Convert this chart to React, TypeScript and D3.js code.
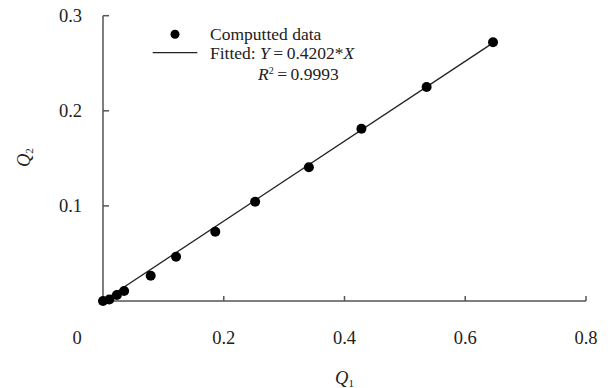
import React from "react";
import * as d3 from "d3";

const q1Values = [0.0, 0.0105, 0.023, 0.035, 0.079, 0.121, 0.186, 0.252, 0.341, 0.428, 0.536, 0.646];
const q2Values = [0.0, 0.0016, 0.0063, 0.0105, 0.0266, 0.0466, 0.0729, 0.1044, 0.1406, 0.1812, 0.225, 0.272];
const xTicks = [0.2, 0.4, 0.6, 0.8];
const yTicks = [0.1, 0.2, 0.3];
const slope = 0.4202;
const r2 = "0.9993";
const fitRange = [0, 0.646];

const W = 608;
const H = 388;
const FONT = "'Liberation Serif', 'Times New Roman', serif";
const FS = 18.5;
const LFS = 17.5;

export default function App() {
  const x = d3.scaleLinear().domain([0, 0.8]).range([103, 586]);
  const y = d3.scaleLinear().domain([0, 0.3]).range([301, 15.7]);
  const axisColor = "#555";
  const fitLine = d3.line<number>().x((d) => x(d)).y((d) => y(d * slope))(fitRange) || "";
  const points = q1Values.map((v, i) => [v, q2Values[i]]);
  return (
    <svg width={W} height={H} style={{ position: "absolute", left: 0, top: 0, background: "#fff" }} fontFamily={FONT}>
      {/* axes */}
      <line x1={x(0)} x2={x(0.8)} y1={y(0)} y2={y(0)} stroke={axisColor} strokeWidth={1.5} />
      <line x1={x(0)} x2={x(0)} y1={y(0)} y2={y(0.3)} stroke={axisColor} strokeWidth={1.5} />
      {xTicks.map((t) => (
        <g key={"x" + t}>
          <line x1={x(t)} x2={x(t)} y1={y(0)} y2={y(0) - 5} stroke={axisColor} strokeWidth={1.5} />
          <text x={x(t)} y={344} textAnchor="middle" fontSize={FS} fill="#222">{d3.format(".1f")(t)}</text>
        </g>
      ))}
      <text x={77} y={344} textAnchor="middle" fontSize={FS} fill="#222">0</text>
      {yTicks.map((t) => (
        <g key={"y" + t}>
          <line x1={x(0)} x2={x(0) + 6} y1={y(t)} y2={y(t)} stroke={axisColor} strokeWidth={1.5} />
          <text x={82} y={y(t) + 6} textAnchor="end" fontSize={FS} fill="#222">{d3.format(".1f")(t)}</text>
        </g>
      ))}
      {/* axis titles */}
      <text x={335} y={384} fontSize={FS} fill="#222" fontStyle="italic">
        Q<tspan fontSize={11} fontStyle="normal" dy={3}>1</tspan>
      </text>
      <text transform="translate(30,167) rotate(-90)" fontSize={FS} fill="#222" fontStyle="italic">
        Q<tspan fontSize={11} fontStyle="normal" dy={3}>2</tspan>
      </text>
      {/* fit line */}
      <path d={fitLine} fill="none" stroke="#222" strokeWidth={1.3} />
      {/* points */}
      {points.map(([a, b], i) => (
        <circle key={i} cx={x(a)} cy={y(b)} r={5} fill="#000" />
      ))}
      {/* legend */}
      <circle cx={175} cy={34.3} r={4.5} fill="#000" />
      <text x={210} y={40} fontSize={LFS} fill="#222">Computted data</text>
      <line x1={152.7} x2={197.3} y1={52.7} y2={52.7} stroke="#222" strokeWidth={1.3} />
      <text x={210} y={59} fontSize={LFS} fill="#222">
        Fitted: <tspan fontStyle="italic">Y</tspan>{"\u2009=\u2009"}0.4202*<tspan fontStyle="italic">X</tspan>
      </text>
      <text x={258} y={79.5} fontSize={LFS} fill="#222">
        <tspan fontStyle="italic">R</tspan><tspan fontSize={10} dy={-6}>2</tspan><tspan dy={6}>{"\u2009=\u2009" + r2}</tspan>
      </text>
    </svg>
  );
}
